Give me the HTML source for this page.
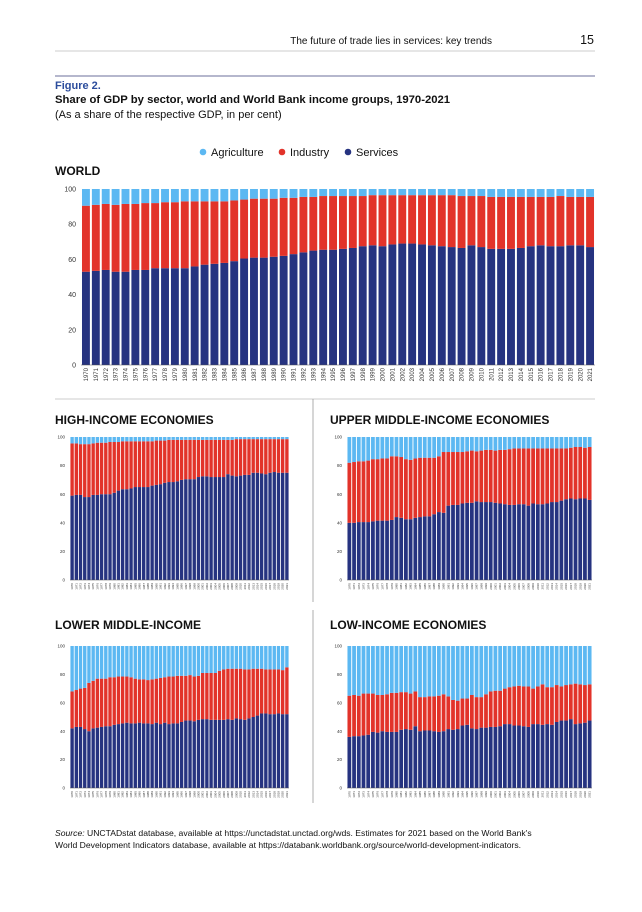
<!DOCTYPE html>
<html><head><meta charset="utf-8">
<style>
html,body{margin:0;padding:0;background:#fff;}
body{width:642px;height:907px;overflow:hidden;position:relative;font-family:"Liberation Sans",sans-serif;}
svg text{font-family:"Liberation Sans",sans-serif;}
</style></head>
<body>
<svg id="page" width="642" height="907" viewBox="0 0 642 907">
  <text x="492" y="44" font-size="10" text-anchor="end" fill="#111">The future of trade lies in services: key trends</text>
  <text x="594" y="44" font-size="12.5" text-anchor="end" fill="#111">15</text>
  <line x1="55" y1="51" x2="595" y2="51" stroke="#bbb" stroke-width="0.8"/>
  <line x1="55" y1="76" x2="595" y2="76" stroke="#3a3f7a" stroke-width="0.8"/>
  <text x="55" y="89" font-size="11" font-weight="bold" fill="#2b4c9c">Figure 2.</text>
  <text x="55" y="103" font-size="11.3" font-weight="bold" fill="#111">Share of GDP by sector, world and World Bank income groups, 1970-2021</text>
  <text x="55" y="118" font-size="11" fill="#111">(As a share of the respective GDP, in per cent)</text>
  <g>
    <circle cx="203" cy="152" r="3.3" fill="#5cb8f2"/>
    <text x="211" y="156" font-size="11" fill="#111">Agriculture</text>
    <circle cx="282" cy="152" r="3.3" fill="#e2332a"/>
    <text x="290" y="156" font-size="11" fill="#111">Industry</text>
    <circle cx="348" cy="152" r="3.3" fill="#263380"/>
    <text x="356" y="156" font-size="11" fill="#111">Services</text>
  </g>
  <text x="55" y="175" font-size="12" font-weight="bold" fill="#111">WORLD</text>
  <line x1="55" y1="399" x2="595" y2="399" stroke="#999" stroke-width="0.6"/>
  <line x1="313" y1="399" x2="313" y2="602" stroke="#999" stroke-width="0.8"/>
  <line x1="313" y1="610" x2="313" y2="803" stroke="#999" stroke-width="0.8"/>
  <text x="55" y="424" font-size="12" font-weight="bold" fill="#111">HIGH-INCOME ECONOMIES</text>
  <text x="330" y="424" font-size="12" font-weight="bold" fill="#111">UPPER MIDDLE-INCOME ECONOMIES</text>
  <text x="55" y="629" font-size="12" font-weight="bold" fill="#111">LOWER MIDDLE-INCOME</text>
  <text x="330" y="629" font-size="12" font-weight="bold" fill="#111">LOW-INCOME ECONOMIES</text>
  <g>
    <text x="55" y="836" font-size="8.6" fill="#111"><tspan font-style="italic">Source:</tspan> UNCTADstat database, available at https://unctadstat.unctad.org/wds. Estimates for 2021 based on the World Bank's</text>
    <text x="55" y="848" font-size="8.6" fill="#111">World Development Indicators database, available at https://databank.worldbank.org/source/world-development-indicators.</text>
  </g>
</svg>
<script>
var years = [];
for (var yy = 1970; yy <= 2021; yy++) years.push(String(yy));
var yTicks = [0, 20, 40, 60, 80, 100];

var worldServices = [53,53.5,54,53,53,54,54,55,55,55,55,56,57,57.5,58,59,60.5,61,61,61.5,62,63,64,65,65.5,65.5,66,66.5,67.5,68,67.5,68.5,69,69,68.5,68,67.5,67,66.5,68,67,66,66,66,66.5,67.5,68,67.5,67.5,68,68,67];
var worldIndustry = [37.5,37.5,37.5,38,38.5,37.5,38,37,37.5,37.5,38,37,36,35.5,35,34.5,33.5,33.5,33.5,33,33,32,31.5,30.5,30.5,30.5,30,29.5,28.5,28.5,29,28,27.5,27.5,28,28.5,29,29.5,29.5,28,29,29.5,29.5,29.5,29,28,27.5,28,28.5,27.5,27.5,28.5];
var worldAgriculture = [9.5,9,8.5,9,8.5,8.5,8,8,7.5,7.5,7,7,7,7,7,6.5,6,5.5,5.5,5.5,5,5,4.5,4.5,4,4,4,4,4,3.5,3.5,3.5,3.5,3.5,3.5,3.5,3.5,3.5,4,4,4,4.5,4.5,4.5,4.5,4.5,4.5,4.5,4,4.5,4.5,4.5];

var highServices = [59,59.5,59.5,58,58,59.5,59.5,60,60,60,61,62.5,63.5,63.5,64,65,65,65,65,66,66.5,67,68,68.5,68.5,69,70,70.5,70.5,70.5,72,72.5,72.5,72,72,72,72,74,73,72.5,73,73.5,73.5,75,75,74.5,74,75,75.5,75,75,75];
var highIndustry = [36.5,36,35.5,37,37,36,36.5,36,36,36.5,35.5,34,33.5,33.5,33,32,32,32,32,31,31,30.5,29.5,29.5,29.5,29,28,27.5,27.5,27.5,26,25.5,25.5,26,26,26,26,24,25,26,25.5,25,25,23.5,23.5,24,24.5,23.5,23,23.5,23.5,23.5];
var highAgriculture = [4.5,4.5,5,5,5,4.5,4,4,4,3.5,3.5,3.5,3,3,3,3,3,3,3,3,2.5,2.5,2.5,2,2,2,2,2,2,2,2,2,2,2,2,2,2,2,2,1.5,1.5,1.5,1.5,1.5,1.5,1.5,1.5,1.5,1.5,1.5,1.5,1.5];

var upperServices = [40,40,40.5,40.5,40.5,41,41.5,41.5,41.5,42,44,43.5,42.5,42.5,43.5,44,44.5,44.5,46,47.5,47,52,52.5,52.5,53.5,54,54,55,54.5,54.5,54.5,54,53.5,53,52.5,52.5,53,53,52,53.5,53,53,53.5,54.5,54.5,55.5,56.5,57,56.5,57,57,56];
var upperIndustry = [42,42.5,42.5,42.5,43,43.5,43,43.5,43.5,44.5,42.5,42.5,42,41.5,41.5,41.5,41,41,39.5,39,42.5,37.5,37,37,36,36,36.5,35,36,36.5,36.5,36.5,37.5,38,39,39.5,39,39,40,38.5,39,39,38.5,37.5,37.5,36.5,35.5,35.5,36.5,36,35.5,37];
var upperAgriculture = [18,17.5,17,17,16.5,15.5,15.5,15,15,13.5,13.5,14,15.5,16,15,14.5,14.5,14.5,14.5,13.5,10.5,10.5,10.5,10.5,10.5,10,9.5,10,9.5,9,9,9.5,9,9,8.5,8,8,8,8,8,8,8,8,8,8,8,8,7.5,7,7,7.5,7];

var lowerServices = [42,43,43,41.5,40,42,42.5,43,43.5,43.5,44.5,45,45.5,46,45.5,45.5,46,45.5,45.5,45,46,45,46,45,45.5,45.5,46.5,47.5,47.5,47,48,48.5,48.5,48,48,48,48,48.5,48,49,48.5,48,49,50,51,52.5,52.5,52,52,52.5,52,52];
var lowerIndustry = [26,26,27,29,34,33.5,34.5,34,33.5,34.5,33.5,33.5,33,32.5,32.5,31.5,30.5,31,30.5,31.5,31,32.5,32,33.5,33,33.5,32.5,31.5,32,31.5,31,32.5,32.5,33,33,34.5,35.5,35.5,36,35,35.5,35.5,34.5,34,33,31.5,31,31.5,31.5,31,31,33];
var lowerAgriculture = [32,31,30,29.5,26,24.5,23,23,23,22,22,21.5,21.5,21.5,22,23,23.5,23.5,24,23.5,23,22.5,22,21.5,21.5,21,21,21,20.5,21.5,21,19,19,19,19,17.5,16.5,16,16,16,16,16.5,16.5,16,16,16,16.5,16.5,16.5,16.5,17,15];

var lowServices = [36,36.5,36.5,37,37.5,39.5,39,40,39.5,39.5,39.5,41,41.5,41,43.5,40,40.5,40.5,40,39.5,40,41.5,41,41.5,44,44.5,42,41.5,42.5,42.5,43,43,43.5,45,45,44,44,43.5,43,45,45,44.5,45,44.5,46.5,47.5,47.5,48.5,45,45.5,46,47.5];
var lowIndustry = [29,29,28.5,29.5,29,27,26.5,25.5,26.5,27.5,27.5,26.5,26,25.5,24.5,24,23.5,24,24.5,25.5,26,23,21,20,19,18.5,23.5,22.5,21.5,23.5,25,25.5,25,25,26,27.5,28,28,28.5,25,26.5,28.5,26,26.5,26,24,25,24.5,28.5,27.5,26.5,25.5];
var lowAgriculture = [35,34.5,35,33.5,33.5,33.5,34.5,34.5,34,33,33,32.5,32.5,33.5,32,36,36,35.5,35.5,35,34,35.5,38,38.5,37,37,34.5,36,36,34,32,31.5,31.5,30,29,28.5,28,28.5,28.5,30,28.5,27,29,29,27.5,28.5,27.5,27,26.5,27,27.5,27];

var COLORS = {services:'#263380', industry:'#e2332a', agriculture:'#5cb8f2'};
var NS = 'http://www.w3.org/2000/svg';
var page = document.getElementById('page');

function mk(tag, attrs, parent) {
  var e = document.createElementNS(NS, tag);
  for (var k in attrs) e.setAttribute(k, attrs[k]);
  parent.appendChild(e);
  return e;
}

function drawChart(key, box, services, industry, agriculture, fs, yfs) {
  var g = mk('g', {}, page);
  
  
  var n = years.length;
  var step = (box.x1 - box.x0) / n;
  var bw = step * 0.8;
  function xScale(i) { return box.x0 + i * step + (step - bw) / 2; }
  function yScale(v) { return box.yb - (v / 100) * (box.yb - box.yt); }
  for (var t = 0; t < yTicks.length; t++) {
    var tl = mk('text', {x: box.x0 - 5, y: yScale(yTicks[t]) + yfs * 0.35, 'font-size': yfs, 'text-anchor': 'end', fill: '#333'}, g);
    tl.textContent = yTicks[t];
    
    
  }
  for (var i = 0; i < n; i++) {
    var s = services[i], ind = industry[i], ag = agriculture[i];
    var x = xScale(i);
    var r1 = mk('rect', {x: x, y: yScale(s), width: bw, height: yScale(0) - yScale(s), fill: COLORS.services}, g);
    
    
    var r2 = mk('rect', {x: x, y: yScale(s + ind), width: bw, height: yScale(s) - yScale(s + ind), fill: COLORS.industry}, g);
    
    
    var r3 = mk('rect', {x: x, y: yScale(s + ind + ag), width: bw, height: yScale(s + ind) - yScale(s + ind + ag), fill: COLORS.agriculture}, g);
    
    
    var cx = x + bw / 2 + fs * 0.35;
    var cy = box.yb + 3;
    var lb = mk('text', {x: cx, y: cy, 'font-size': fs, 'text-anchor': 'end', fill: '#333', transform: 'rotate(-90 ' + cx + ' ' + cy + ')'}, g);
    lb.textContent = years[i];
    
    
  }
  var ax = mk('line', {x1: box.x0, y1: box.yb, x2: box.x1, y2: box.yb, stroke: '#555', 'stroke-width': 0.6}, g);
  
  
}

drawChart('world', {x0: 81, x1: 595, yt: 189, yb: 365}, worldServices, worldIndustry, worldAgriculture, 6, 7);
drawChart('high-income', {x0: 70, x1: 289, yt: 437, yb: 580}, highServices, highIndustry, highAgriculture, 3, 4.5);
drawChart('upper-middle-income', {x0: 347, x1: 592, yt: 437, yb: 580}, upperServices, upperIndustry, upperAgriculture, 3, 4.5);
drawChart('lower-middle-income', {x0: 70, x1: 289, yt: 646, yb: 788}, lowerServices, lowerIndustry, lowerAgriculture, 3, 4.5);
drawChart('low-income', {x0: 347, x1: 592, yt: 646, yb: 788}, lowServices, lowIndustry, lowAgriculture, 3, 4.5);
</script>
</body></html>
